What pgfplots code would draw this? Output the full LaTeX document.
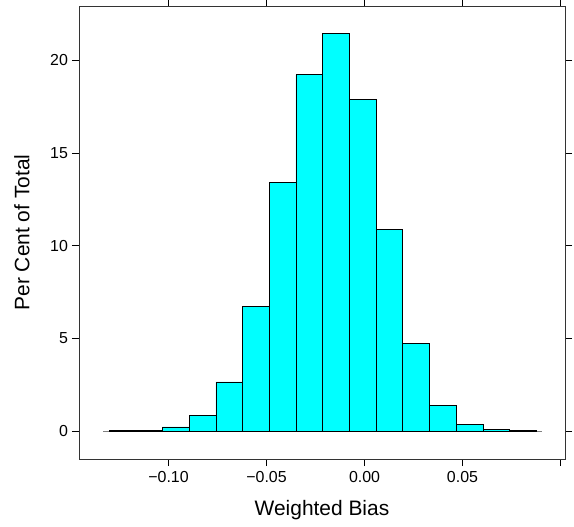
\documentclass[border=0pt]{standalone}
\usepackage{pgfplots}
\pgfplotsset{compat=1.18}
\usepackage{fontspec}
\setmainfont{Liberation Sans}
\definecolor{barcyan}{RGB}{0,255,255}
\begin{document}
\begin{tikzpicture}
\useasboundingbox (-79bp,-68bp) rectangle (495bp,459bp);
\begin{axis}[
  at={(0,0)}, anchor=south west,
  scale only axis, width=486bp, height=453bp,
  xmin=-0.1457, xmax=0.1023, ymin=-1.51, ymax=22.93,
  axis line style={black!80, line width=0.75bp},
  tick align=outside, tick pos=both,
  major tick length=7bp,
  tick style={black, line width=0.75bp},
  xtick={-0.10,-0.05,0,0.05,0.10},
  xticklabels={−0.10,−0.05,0.00,0.05,},
  ytick={0,5,10,15,20},
  yticklabels={0,5,10,15,20},
  tick label style={font=\fontsize{16}{18}\selectfont},
  xticklabel style={yshift=-2bp},
  yticklabel style={xshift=-0.5bp},
  xlabel={Weighted Bias},
  ylabel={Per Cent of Total},
  label style={font=\fontsize{21}{24}\selectfont},
  xlabel style={at={(axis description cs:0.5,-0.1126)}, anchor=center},
  ylabel style={at={(axis description cs:-0.1173,0.5)}, anchor=center, rotate=0},
  clip=false,
]
\addplot[gray, line width=1bp] coordinates {(-0.1334,0) (0.0904,0)};
\addplot[ybar interval, fill=barcyan, draw=black, line width=0.75bp] coordinates {
(-0.1303,0.02)
(-0.1167,0.04)
(-0.1031,0.22)
(-0.0894,0.83)
(-0.0758,2.65)
(-0.0622,6.72)
(-0.0486,13.39)
(-0.0350,19.22)
(-0.0213,21.44)
(-0.0077,17.89)
(0.0059,10.87)
(0.0195,4.73)
(0.0331,1.39)
(0.0468,0.35)
(0.0604,0.08)
(0.0740,0.02)
(0.0876,0.02)
};
\end{axis}
\end{tikzpicture}
\end{document}
